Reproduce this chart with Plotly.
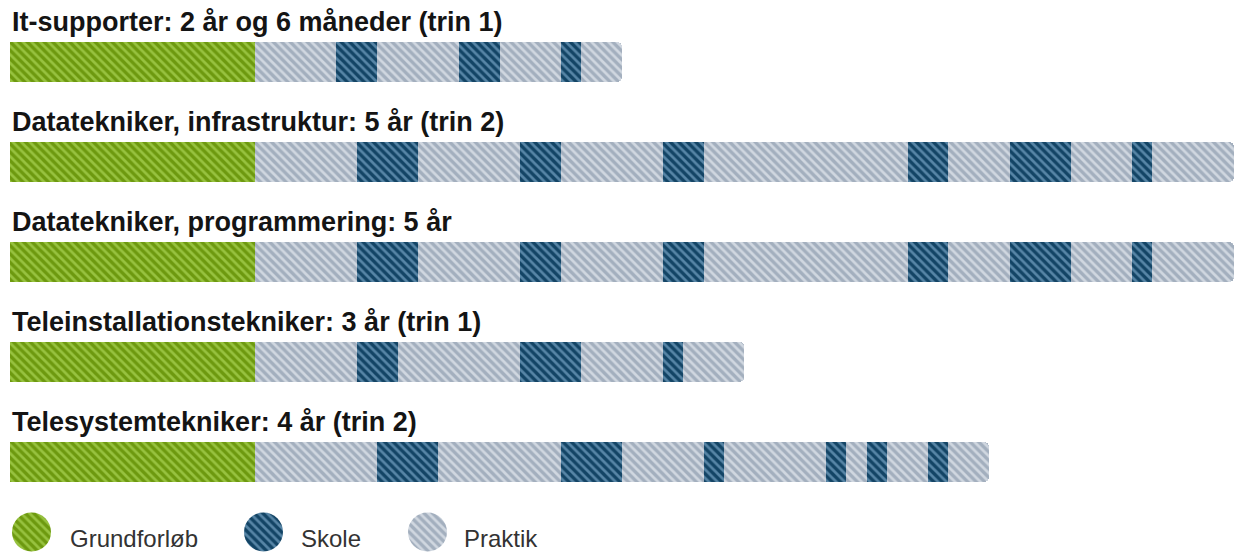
import plotly.graph_objects as go

# ---------------- data (months) ----------------
programs = [
    "It-supporter: 2 år og 6 måneder (trin 1)",
    "Datatekniker, infrastruktur: 5 år (trin 2)",
    "Datatekniker, programmering: 5 år",
    "Teleinstallationstekniker: 3 år (trin 1)",
    "Telesystemtekniker: 4 år (trin 2)",
]
it_supporter = [12, 4, 2, 4, 2, 3, 1, 2]
infrastruktur = [12, 5, 3, 5, 2, 5, 2, 10, 2, 3, 3, 3, 1, 4]
programmering = [12, 5, 3, 5, 2, 5, 2, 10, 2, 3, 3, 3, 1, 4]
teleinstallation = [12, 5, 2, 6, 3, 4, 1, 3]
telesystem = [12, 6, 3, 6, 3, 4, 1, 5, 1, 1, 1, 2, 1, 2]

it_phases = "GPSPSPSP"
infra_phases = "GPSPSPSPSPSPSP"
prog_phases = "GPSPSPSPSPSPSP"
inst_phases = "GPSPSPSP"
sys_phases = "GPSPSPSPSPSPSP"

legend_names = ["Grundforløb", "Skole", "Praktik"]
max_months = 60

# ---------------- styles ----------------
styles = {
    "G": dict(bg="#6d990f", fg="#97c23f"),
    "S": dict(bg="#134465", fg="#5785a6"),
    "P": dict(bg="#a3afbe", fg="#d0d7e0"),
}
phase_key = {"Grundforløb": "G", "Skole": "S", "Praktik": "P"}

rows = [
    (programs[0], it_supporter, it_phases),
    (programs[1], infrastruktur, infra_phases),
    (programs[2], programmering, prog_phases),
    (programs[3], teleinstallation, inst_phases),
    (programs[4], telesystem, sys_phases),
]


def pattern(key):
    st = styles[key]
    return dict(shape="\\", fillmode="replace", bgcolor=st["bg"], fgcolor=st["fg"],
                size=6, solidity=0.45)


fig = go.Figure()
for name, durations, phases in rows:
    for d, p in zip(durations, phases):
        fig.add_trace(go.Bar(
            x=[d], y=[name], orientation="h",
            marker=dict(color=styles[p]["bg"], line=dict(width=0), pattern=pattern(p)),
            showlegend=False, hoverinfo="skip",
        ))

# titles above each bar
for name in programs:
    fig.add_annotation(
        x=0, y=name, xref="x", yref="y", xanchor="left", yanchor="bottom",
        yshift=23, text=name, showarrow=False,
        font=dict(family="Liberation Sans", size=27, color="#141414", weight="bold"),
    )

# legend: hatched circles (single-slice pies) + labels
W, H, L, T = 1234, 553, 10, 12
plot_w, plot_h = W - L, H - T


def px_x(v):
    return (v - L) / plot_w


def px_y(v):
    return (H - v) / plot_h


circle_x = [12, 244, 408]
label_x = [68, 299, 462]
cy, r = 532, 19.5
for lname, cx, lx in zip(legend_names, circle_x, label_x):
    k = phase_key[lname]
    fig.add_trace(go.Pie(
        values=[1], labels=[lname], sort=False, showlegend=False,
        textinfo="none", hoverinfo="skip",
        marker=dict(colors=[styles[k]["bg"]], pattern=dict(shape="\\", fillmode="replace",
                    bgcolor=styles[k]["bg"], fgcolor=styles[k]["fg"], size=6, solidity=0.45),
                    line=dict(width=0)),
        domain=dict(x=[px_x(cx), px_x(cx + 2 * r)], y=[px_y(cy + r), px_y(cy - r)]),
    ))
    fig.add_annotation(
        x=px_x(lx), y=px_y(538), xref="paper", yref="paper", xanchor="left", yanchor="middle",
        text=lname, showarrow=False,
        font=dict(family="Liberation Sans", size=24, color="#333333"),
    )

fig.update_layout(
    width=W, height=H, autosize=False,
    margin=dict(l=L, r=0, t=T, b=0),
    barmode="stack", bargap=0.6, barcornerradius=5,
    plot_bgcolor="white", paper_bgcolor="white",
    showlegend=False,
    xaxis=dict(range=[0, max_months], visible=False, fixedrange=True),
    yaxis=dict(categoryorder="array", categoryarray=programs, range=[4.5, -0.5],
               domain=[px_y(512), 1], visible=False, fixedrange=True),
)

fig.write_html(
    "out.html",
    config={"displayModeBar": False, "responsive": False},
    post_script="document.body.style.margin='0';document.body.style.overflow='hidden';",
)
